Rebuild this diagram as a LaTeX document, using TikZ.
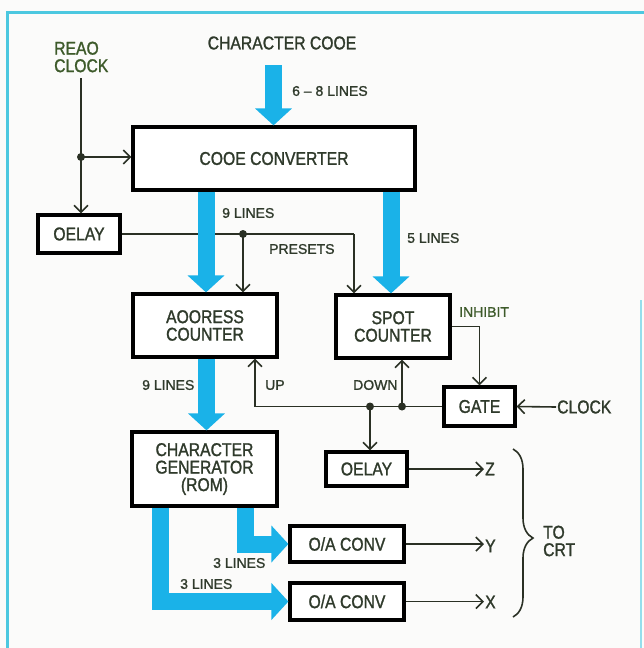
\documentclass[tikz,border=0pt]{standalone}
\usepackage{fontspec}
\setmainfont{Liberation Sans}[FakeBold=1.2]
\newfontfamily\condf{Liberation Sans}[FakeStretch=0.85,FakeBold=1.3]
\usetikzlibrary{arrows.meta,decorations.pathreplacing}
\definecolor{bus}{HTML}{1AB2E8}
\definecolor{ink}{HTML}{2A3024}
\definecolor{txt}{HTML}{2F3A2B}
\definecolor{grn}{HTML}{3D5A2A}
\definecolor{frame}{HTML}{4CC8E0}
\definecolor{paper}{HTML}{FBFBFA}
\newcommand{\bigf}{\condf\fontsize{18.5}{17.5}\selectfont}
\newcommand{\smallf}{\fontsize{14}{16}\selectfont}
\tikzset{
  box/.style={draw=black, line width=3.2pt, fill=white, inner sep=0pt, font=\bigf, text=txt, align=center},
  lbl/.style={font=\smallf, text=txt, inner sep=1pt, anchor=west},
  biglbl/.style={font=\bigf, text=txt, inner sep=1pt, anchor=west, align=left},
  wire/.style={draw=ink, line width=1.6pt},
  wirearrow/.style={wire, -{Straight Barb[length=7pt,width=14pt,line width=1.6pt]}},
  fat/.style={draw=bus, line width=17pt, line join=miter, -{Triangle[length=17pt,width=36pt]}},
  dot/.style={circle, fill=ink, inner sep=0pt, minimum size=8pt}
}
\begin{document}
\begin{tikzpicture}[x=1pt,y=-1pt]
\useasboundingbox (0,0) rectangle (644,648);
\fill[paper] (0,0) rectangle (644,648);
% frame
\draw[frame, line width=3pt] (7,648) -- (7,12) -- (644,12);
\draw[frame!60, line width=2.5pt] (641,300) -- (641,648);

% boxes
\node[box, minimum width=282pt, minimum height=63pt] (cc) at (274,158.5) {COOE CONVERTER};
\node[box, minimum width=82pt, minimum height=38pt] (d1) at (79,234) {OELAY};
\node[box, minimum width=144pt, minimum height=63pt] (ac) at (205,325.5) {AOORESS\\COUNTER};
\node[box, minimum width=114pt, minimum height=63pt] (sc) at (393,326.5) {SPOT\\COUNTER};
\node[box, minimum width=71pt, minimum height=39pt] (gate) at (479.5,406.5) {GATE};
\node[box, minimum width=145pt, minimum height=74pt] (cg) at (204.5,469) {CHARACTER\\GENERATOR\\(ROM)};
\node[box, minimum width=81pt, minimum height=34pt] (d2) at (366.5,469) {OELAY};
\node[box, minimum width=114pt, minimum height=36pt] (da1) at (347,544) {O/A CONV};
\node[box, minimum width=114pt, minimum height=37pt] (da2) at (347,601.5) {O/A CONV};

% texts
\node[font=\bigf, text=txt, inner sep=1pt] (ccode) at (282,43) {CHARACTER COOE};
\node[biglbl, text=grn, font=\condf\fontsize{18.5}{17.5}\selectfont] (rclk) at (53,57) {REAO\\CLOCK};
\node[lbl] (l68) at (291,91) {6 -- 8 LINES};
\node[lbl] (l9a) at (221,213) {9 LINES};
\node[lbl] (l5) at (406,238) {5 LINES};
\node[lbl] (lpre) at (268,249) {PRESETS};
\node[lbl, text=grn] (linh) at (458,312) {INHIBIT};
\node[lbl] (l9b) at (141,385) {9 LINES};
\node[lbl] (lup) at (264,385) {UP};
\node[lbl] (ldown) at (352,385) {DOWN};
\node[biglbl] (clk) at (556,407) {CLOCK};
\node[lbl] (l3a) at (212,563) {3 LINES};
\node[lbl] (l3b) at (179,584) {3 LINES};
\node[biglbl] (oz) at (484,469) {Z};
\node[biglbl] (oy) at (484,546) {Y};
\node[biglbl] (ox) at (484,602) {X};
\node[biglbl, font=\condf\fontsize{18.5}{17.5}\selectfont] (crt) at (542,541) {TO\\CRT};

% coordinates
\coordinate (rcTop) at (81,78);
\coordinate (j1) at (81,157);
\coordinate (j2) at (243,234);
\coordinate (p1) at (354,234);
\coordinate (upc) at (255,406.5);
\coordinate (j3) at (402,406.5);
\coordinate (j4) at (370,406.5);
\coordinate (inTop) at (273.5,65);
\coordinate (b9a) at (206,158.5);
\coordinate (b5) at (391,158.5);
\coordinate (b9b) at (206.5,325.5);
\coordinate (b3a) at (245,469);
\coordinate (b3b) at (160,469);

% wires
\draw[wirearrow] (rcTop) -- (rcTop |- d1.north);
\draw[wirearrow] (j1) -- (j1 -| cc.west);
\draw[wire] (d1.east) -- (p1);
\draw[wirearrow] (p1) -- (p1 |- sc.north);
\draw[wirearrow] (j2) -- (j2 |- ac.north);
\draw[wirearrow] (sc.east) -| (gate.north);
\draw[wirearrow] (clk.west) -- (gate.east);
\draw[wire] (gate.west) -- (upc);
\draw[wirearrow] (upc) -- (upc |- ac.south);
\draw[wirearrow] (j3) -- (j3 |- sc.south);
\draw[wirearrow] (j4) -- (j4 |- d2.north);
\draw[wirearrow] (d2.east) -- (oz.west);
\draw[wirearrow] (da1.east) -- (da1.east -| oy.west);
\draw[wirearrow] (da2.east) -- (da2.east -| ox.west);
\draw[wire, decorate, decoration={brace, amplitude=20pt, aspect=0.53}] (513,449) -- (513,617);

% dots
\node[dot] at (j1) {};
\node[dot] at (j2) {};
\node[dot] at (j3) {};
\node[dot] at (j4) {};

% buses
\draw[fat] (inTop) -- (inTop |- cc.north);
\draw[fat] (b9a |- cc.south) -- (b9a |- ac.north);
\draw[fat] (b5 |- cc.south) -- (b5 |- sc.north);
\draw[fat] (b9b |- ac.south) -- (b9b |- cg.north);
\draw[fat] (b3a |- cg.south) |- (da1.west);
\draw[fat] (b3b |- cg.south) |- (da2.west);
\end{tikzpicture}
\end{document}
